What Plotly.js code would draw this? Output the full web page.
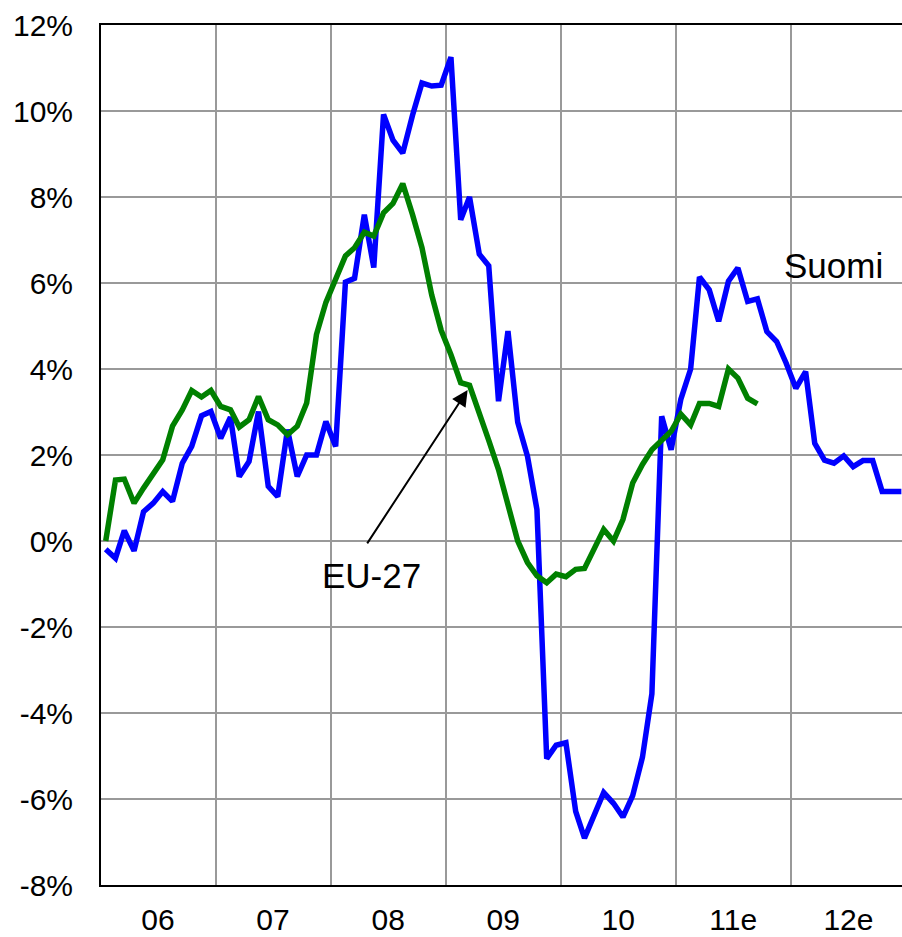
<!DOCTYPE html>
<html>
<head>
<meta charset="utf-8">
<script src="https://cdn.plot.ly/plotly-3.0.1.min.js"></script>
<style>html,body{margin:0;padding:0;background:#fff;}#chart{width:902px;height:937px;}</style>
</head>
<body>
<div id="chart"></div>
<script>
// Monthly series, Jan 2006 onward (percent)
var suomi = [
  -0.19, -0.40, 0.24, -0.23, 0.68, 0.88, 1.15, 0.92, 1.81, 2.20, 2.91, 3.01,
  2.39, 2.88, 1.50, 1.85, 3.01, 1.27, 1.03, 2.59, 1.50, 2.00, 2.00, 2.78,
  2.20, 6.02, 6.11, 7.59, 6.36, 9.92, 9.32, 9.02, 9.90, 10.65, 10.58, 10.60,
  11.25, 7.47, 8.00, 6.67, 6.40, 3.25, 4.88, 2.76, 1.97, 0.73, -5.06, -4.75,
  -4.69, -6.29, -6.91, -6.37, -5.85, -6.10, -6.42, -5.92, -5.03, -3.55, 2.90, 2.12,
  3.30, 4.00, 6.14, 5.84, 5.11, 6.04, 6.35, 5.57, 5.63, 4.87, 4.64, 4.14,
  3.55, 3.94, 2.27, 1.88, 1.81, 1.98, 1.73, 1.87, 1.87, 1.15, 1.15, 1.15
];
var eu27 = [
  0.00, 1.42, 1.44, 0.88, 1.23, 1.54, 1.89, 2.67, 3.05, 3.50, 3.35, 3.50,
  3.13, 3.05, 2.65, 2.82, 3.36, 2.82, 2.70, 2.47, 2.67, 3.21, 4.80, 5.55,
  6.09, 6.63, 6.82, 7.18, 7.09, 7.63, 7.85, 8.31, 7.59, 6.82, 5.72, 4.90,
  4.33, 3.68, 3.62, 3.00, 2.34, 1.66, 0.81, 0.00, -0.50, -0.81, -0.97, -0.77,
  -0.83, -0.66, -0.64, -0.15, 0.27, 0.00, 0.50, 1.35, 1.78, 2.12, 2.35, 2.55,
  2.95, 2.70, 3.20, 3.20, 3.13, 4.00, 3.79, 3.32, 3.19
];
var startYear = 2006;
var yearTickVals = ['2006-07-01','2007-07-01','2008-07-01','2009-07-01','2010-07-01','2011-07-01','2012-07-01'];
var yearTickText = ['06','07','08','09','10','11e','12e'];
var yTickVals = [-8,-6,-4,-2,0,2,4,6,8,10,12];
var yTickText = ['-8%','-6%','-4%','-2%','0%','2%','4%','6%','8%','10%','12%'];
var seriesNames = ['Suomi','EU-27'];

function monthDates(n){
  var out = [];
  for (var i = 0; i < n; i++) {
    var y = startYear + Math.floor(i / 12);
    var m = (i % 12) + 1;
    out.push(y + '-' + (m < 10 ? '0' + m : m) + '-16');
  }
  return out;
}

var FONT = 'Liberation Sans, Arial, sans-serif';

var traces = [
  {x: monthDates(suomi.length), y: suomi, name: seriesNames[0], type: 'scatter', mode: 'lines',
   line: {color: '#0000ff', width: 5.5}},
  {x: monthDates(eu27.length), y: eu27, name: seriesNames[1], type: 'scatter', mode: 'lines',
   line: {color: '#008000', width: 5.5}}
];

var layout = {
  width: 902, height: 937,
  margin: {l: 101, r: 0, t: 25, b: 52},
  paper_bgcolor: '#ffffff', plot_bgcolor: '#ffffff',
  showlegend: false,
  font: {family: FONT, color: '#000', size: 30},
  xaxis: {
    type: 'date',
    range: ['2006-01-01', '2012-12-18'],
    tickmode: 'array', tickvals: yearTickVals, ticktext: yearTickText,
    ticks: '', showgrid: false,
    minor: {tickmode: 'linear', tick0: '2006-01-01', dtick: 'M12', showgrid: true, gridcolor: '#999999', gridwidth: 2, ticks: ''},
    showline: true, linecolor: '#000', linewidth: 2, mirror: true,
    zeroline: false,
    tickfont: {family: FONT, size: 30, color: '#000'},
    ticklabelstandoff: 7
  },
  yaxis: {
    range: [-8, 12],
    tickmode: 'array', tickvals: yTickVals, ticktext: yTickText,
    ticks: '', showgrid: true, gridcolor: '#999999', gridwidth: 2,
    showline: true, linecolor: '#000', linewidth: 2, mirror: false,
    zeroline: false,
    tickfont: {family: FONT, size: 30, color: '#000'},
    ticklabelstandoff: 20
  },
  annotations: [
    {x: '2012-05-15', y: 6.4, xref: 'x', yref: 'y', text: seriesNames[0], showarrow: false,
     font: {family: FONT, size: 35, color: '#000'}},
    {x: '2008-05-09', y: -0.8, xref: 'x', yref: 'y', text: seriesNames[1], showarrow: false,
     font: {family: FONT, size: 35, color: '#000'}},
    {x: '2009-03-10', y: 3.51, xref: 'x', yref: 'y', ax: '2008-04-22', ay: -0.09, axref: 'x', ayref: 'y',
     text: '', showarrow: true, arrowhead: 2, arrowsize: 1.6, arrowwidth: 2, arrowcolor: '#000'}
  ]
};

Plotly.newPlot('chart', traces, layout, {displayModeBar: false, staticPlot: true});
</script>
</body>
</html>
